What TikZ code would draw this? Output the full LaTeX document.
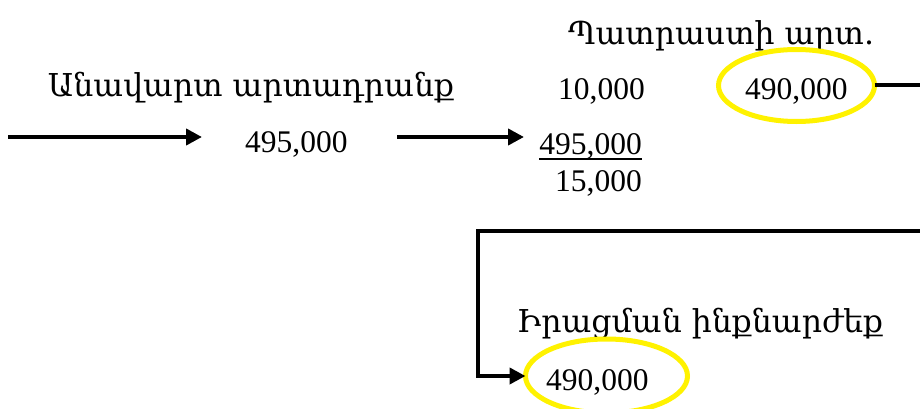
\documentclass[tikz,border=0pt]{standalone}
\usepackage{fontspec}
\setmainfont{Liberation Serif}
\newfontfamily\armfont{DejaVu Serif}
\usetikzlibrary{arrows.meta}
\begin{document}
\begin{tikzpicture}[x=1pt,y=-1pt,
  txt/.style={inner sep=0pt,font=\fontsize{31.5}{36}\selectfont},
  arm/.style={inner sep=0pt,font=\fontsize{31.5}{36}\selectfont\armfont},
  tip/.style={-{Triangle[length=16pt,width=16pt]}},
  flow/.style={line width=4pt,tip},
  conn/.style={line width=4pt},
  hl/.style={yellow,line width=5pt}]
\useasboundingbox (0,0) rectangle (920,409);
\clip (0,0) rectangle (920,409);
% texts
\node[arm,anchor=base] (t1) at (251,97) {Անավարտ արտադրանք};
\node[arm,anchor=base] (t2) at (721,45) {Պատրաստի արտ.};
\node[arm,anchor=base] (t3) at (700,332) {Իրացման ինքնարժեք};
\node[txt,anchor=base west] (n1) at (245,152) {495,000};
\node[txt,anchor=base east] (n10) at (645,100) {10,000};
\node[txt,anchor=base east] (n495) at (642,154) {495,000};
\node[txt,anchor=base east] (n15) at (642,191) {15,000};
\node[txt,anchor=base west] (n490) at (745,100) {490,000};
\node[txt,anchor=base west] (n490b) at (546,390) {490,000};
% underline
\draw[line width=2pt] ([yshift=-5pt]n495.base west) -- ([yshift=-5pt]n495.base east);
% ellipses
\draw[hl] (796.5,85.5) ellipse [x radius=78, y radius=36];
\coordinate (e1) at (874.5,85.5);
\draw[hl] (606.5,376) ellipse [x radius=81, y radius=37];
\coordinate (e2) at (525.5,376);
% connectors
\coordinate (s1) at (8,137);
\draw[flow] (s1) -- (202,137);
\coordinate (s2) at (397,137);
\draw[flow] (s2) -- (524,137);
\coordinate (r) at (930,85.5);
\draw[flow] (e1) -- (r) |- (478,231) |- (e2);
\end{tikzpicture}
\end{document}
